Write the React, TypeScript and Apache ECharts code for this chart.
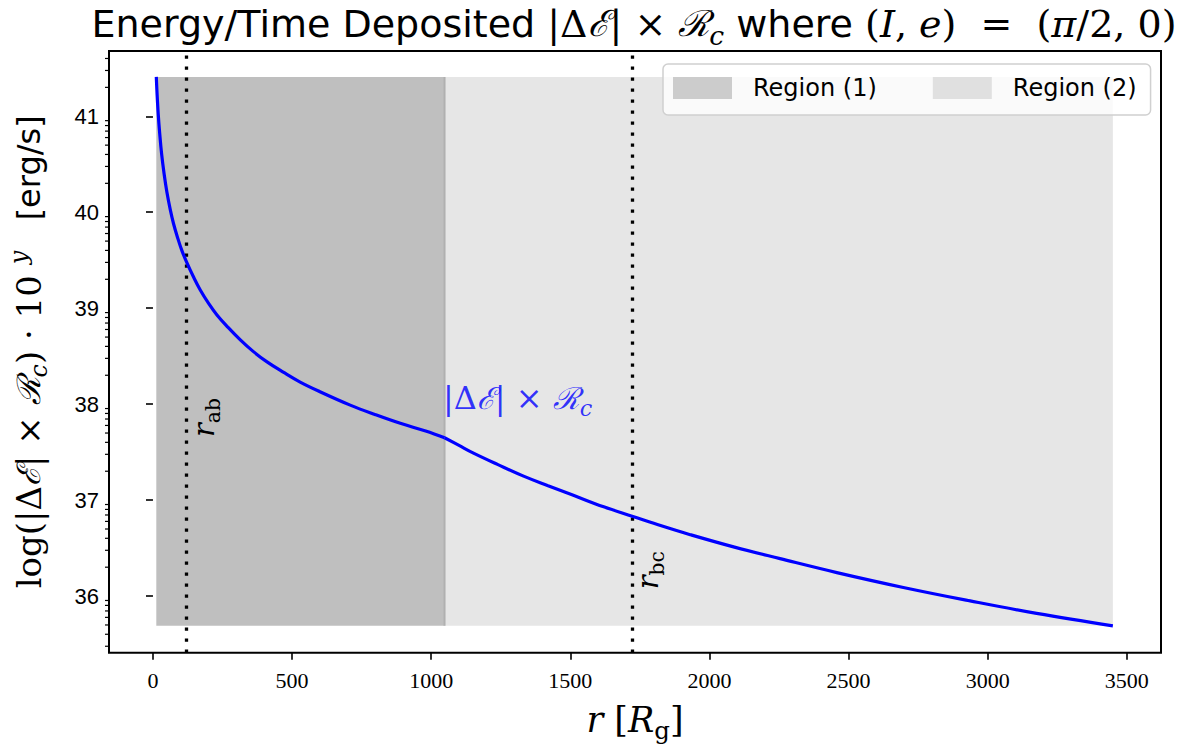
import React, { useEffect, useRef } from "react";
import * as echarts from "echarts";

// Radius in gravitational radii and log10 of deposited power (erg/s)
const radius = [12, 15, 19, 24, 31, 40, 50, 62, 74, 88, 104, 121, 145, 170, 200, 230, 270, 314, 360, 410, 470, 529, 600, 709, 800, 889, 980, 1048, 1100, 1152, 1240, 1332, 1420, 1511, 1620, 1725, 1830, 1931, 2090, 2254, 2458, 2697, 2937, 3176, 3450];
const logPower = [41.41, 41.22, 41.02, 40.83, 40.61, 40.4, 40.21, 40.03, 39.88, 39.74, 39.6, 39.48, 39.33, 39.19, 39.05, 38.93, 38.8, 38.67, 38.55, 38.44, 38.33, 38.23, 38.13, 37.99, 37.89, 37.8, 37.72, 37.65, 37.57, 37.49, 37.37, 37.25, 37.15, 37.05, 36.93, 36.83, 36.73, 36.64, 36.51, 36.39, 36.245, 36.09, 35.95, 35.82, 35.69];

const xTicks = [0, 500, 1000, 1500, 2000, 2500, 3000, 3500];
const yTicks = [36, 37, 38, 39, 40, 41];
const decades = [35, 36, 37, 38, 39, 40, 41];
const minorMultipliers = [2, 3, 4, 5, 6, 7, 8, 9];

// Boundary between the two regions, and the two characteristic radii
const regionBreak = 1048;
const rAb = 121;
const rBc = 1722;

const xMin = -158;
const xMax = 3623;
const yMin = 35.41;
const yMax = 41.68;

const SANS = "'DejaVu Sans', sans-serif";
const NUM_SANS = "'Liberation Sans', 'DejaVu Sans', sans-serif";
const NUM_SERIF = "'Liberation Serif', 'DejaVu Serif', serif";
const MATH = "'DejaVu Serif', 'Liberation Serif', serif";

function mathRich(size: number, color: string, sansSize?: number) {
  return {
    m: { fontFamily: MATH, fontSize: size, color },
    it: { fontFamily: MATH, fontStyle: "italic", fontSize: size, color },
    cal: { fontFamily: MATH, fontStyle: "italic", fontSize: size * 0.95, color },
    sub: { fontFamily: MATH, fontStyle: "italic", fontSize: size * 0.7, color, padding: [size * 0.6, 0, 0, 0] },
    subr: { fontFamily: MATH, fontSize: size * 0.7, color, padding: [size * 0.6, 0, 0, 0] },
    sup: { fontFamily: MATH, fontStyle: "italic", fontSize: size * 0.7, color, padding: [0, 0, size * 0.6, 0] },
    s: { fontFamily: SANS, fontSize: sansSize ?? size, color },
  };
}

export default function App() {
  const ref = useRef<HTMLDivElement>(null);

  useEffect(() => {
    if (!ref.current) return;
    const chart = echarts.init(ref.current, undefined, { renderer: "svg" });

    const fillBottom = Math.min(...logPower);
    const fillTop = Math.max(...logPower);
    const fillStart = radius[0];
    const fillEnd = radius[radius.length - 1];
    const curve = radius.map((r, i) => [r, logPower[i]]);
    const breakIndex = radius.indexOf(regionBreak);
    const inner = curve.slice(0, breakIndex + 1);
    const outer = curve.slice(breakIndex);
    const minorTicks = decades
      .flatMap((d) => minorMultipliers.map((k) => d + Math.log10(k)))
      .filter((v) => v > yMin && v < yMax);

    const regionRender = (fill: string, edge: boolean) => (params: any, api: any) => {
      const p0 = api.coord([api.value(0), api.value(3)]);
      const p1 = api.coord([api.value(1), api.value(2)]);
      const children: any[] = [
        { type: "rect", shape: { x: p0[0], y: p0[1], width: p1[0] - p0[0], height: p1[1] - p0[1] }, style: { fill } },
      ];
      if (edge) {
        children.push({
          type: "line",
          shape: { x1: p1[0], y1: p0[1], x2: p1[0], y2: p1[1] },
          style: { stroke: "#b0b0b0", lineWidth: 2 },
        });
      }
      return { type: "group", children };
    };

    const curveStyle = {
      type: "line",
      showSymbol: false,
      symbol: "none",
      smooth: 0.4,
      lineStyle: { color: "#0000ff", width: 3.2 },
      z: 5,
      silent: true,
    };

    const blackLabel = (text: string) => ({
      formatter: text,
      color: "#000",
      rich: mathRich(29, "#000"),
    });

    chart.setOption({
      animation: false,
      backgroundColor: "#ffffff",
      grid: {
        left: 109,
        right: 27,
        top: 51,
        bottom: 98.3,
        containLabel: false,
        outerBoundsMode: "none",
        show: true,
        borderColor: "#000",
        borderWidth: 2,
        backgroundColor: "transparent",
      },
      legend: {
        left: 663,
        top: 64,
        orient: "horizontal",
        icon: "rect",
        itemWidth: 59,
        itemHeight: 22,
        itemGap: 56,
        padding: [12, 14, 15, 10],
        backgroundColor: "rgba(255,255,255,0.8)",
        borderColor: "#d0d0d0",
        borderWidth: 1.5,
        borderRadius: 5,
        selectedMode: false,
        textStyle: { fontFamily: SANS, fontSize: 24, color: "#000", padding: [0, 0, 0, 16] },
        data: [
          { name: "Region (1)", itemStyle: { color: "#cccccc" } },
          { name: "Region (2)", itemStyle: { color: "#e0e0e0" } },
        ],
      },
      xAxis: {
        type: "value",
        min: xMin,
        max: xMax,
        splitLine: { show: false },
        axisLine: { show: false },
        axisTick: { show: true, customValues: xTicks, length: 7, lineStyle: { color: "#000", width: 1.6 } },
        axisLabel: {
          customValues: xTicks,
          formatter: (v: number) => String(v),
          fontFamily: NUM_SERIF,
          fontSize: 22,
          color: "#000",
          margin: 17,
        },
        name: "{it|r}{m| [}{it|R}{subr|g}{m|]}",
        nameLocation: "middle",
        nameGap: 44,
        nameTextStyle: { rich: mathRich(35, "#000") },
      },
      yAxis: {
        type: "value",
        min: yMin,
        max: yMax,
        splitLine: { show: false },
        axisLine: { show: false },
        axisTick: { show: true, customValues: yTicks, length: 7, lineStyle: { color: "#000", width: 1.6 } },
        axisLabel: { customValues: yTicks, fontFamily: NUM_SANS, fontSize: 22, color: "#000", margin: 10 },
        name: "{m|log(|Δ}{cal|ℰ}{m|| × }{cal|ℛ}{sub|c}{m|) · 10 }{sup|y}{s|   [erg/s]}",
        nameLocation: "middle",
        nameRotate: 90,
        nameGap: 58,
        nameTextStyle: { rich: mathRich(34, "#000", 32) },
      },
      graphic: [
        {
          type: "text",
          x: 634,
          y: 24,
          style: {
            text: "{s|Energy/Time Deposited }{m||Δ}{cal|ℰ}{m|| × }{cal|ℛ}{sub|c}{s| where }{m|(}{it|I}{m|, }{it|e}{m|)  =  (}{it|π}{m|/2, 0)}",
            align: "center",
            verticalAlign: "middle",
            rich: mathRich(38, "#000", 38),
          },
        },
      ],
      series: [
        {
          type: "custom",
          name: "Region (1)",
          data: [[fillStart, regionBreak, fillBottom, fillTop]],
          encode: { x: [0, 1], y: [2, 3] },
          renderItem: regionRender("#bfbfbf", true),
          itemStyle: { color: "#cccccc" },
          silent: true,
          z: 1,
        },
        {
          type: "custom",
          name: "Region (2)",
          data: [[regionBreak, fillEnd, fillBottom, fillTop]],
          encode: { x: [0, 1], y: [2, 3] },
          renderItem: regionRender("#e6e6e6", false),
          itemStyle: { color: "#e0e0e0" },
          silent: true,
          z: 0,
        },
        {
          ...curveStyle,
          name: "power",
          data: inner,
          markLine: {
            silent: true,
            symbol: "none",
            label: { show: false },
            lineStyle: { color: "#000", width: 3.3, type: [3.3, 7.7] },
            data: [{ xAxis: rAb }, { xAxis: rBc }],
          },
        },
        { ...curveStyle, name: "power outer", data: outer },
        {
          type: "scatter",
          name: "labels",
          symbolSize: 0,
          silent: true,
          z: 6,
          itemStyle: { opacity: 1 },
          data: [
            { value: [184, 37.86], label: blackLabel("{it|r}{subr|ab}") },
            { value: [1779, 36.27], label: blackLabel("{it|r}{subr|bc}") },
          ],
          label: { show: true, position: "inside", rotate: 90, color: "#000" },
        },
        {
          type: "scatter",
          name: "curveLabel",
          symbolSize: 0,
          silent: true,
          z: 6,
          data: [[1042, 38.06]],
          label: {
            show: true,
            position: "right",
            distance: 0,
            color: "#0000ff",
            formatter: "{m||Δ}{cal|ℰ}{m|| × }{cal|ℛ}{sub|c}",
            rich: mathRich(32, "#0000ff"),
          },
        },
        {
          type: "custom",
          name: "minorTicks",
          data: minorTicks.map((v) => [xMin, v]),
          clip: false,
          silent: true,
          z: 10,
          renderItem: (params: any, api: any) => {
            const y = api.coord([xMin, api.value(1)])[1];
            const x = params.coordSys.x;
            return {
              type: "line",
              shape: { x1: x, y1: y, x2: x - 4, y2: y },
              style: { stroke: "#000", lineWidth: 1.2 },
            };
          },
        },
      ],
    });

    return () => chart.dispose();
  }, []);

  return (
    <div
      ref={ref}
      style={{ position: "fixed", left: 0, top: 0, width: 1188, height: 751 }}
    />
  );
}
